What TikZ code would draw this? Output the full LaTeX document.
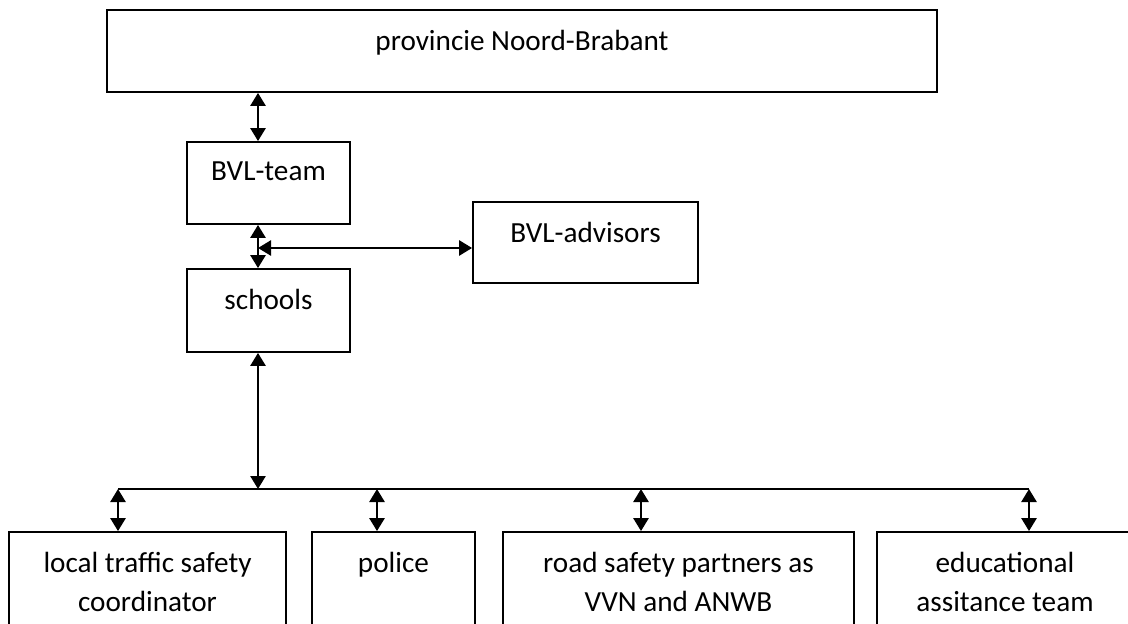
\documentclass[tikz,border=0pt]{standalone}
\usepackage{fontspec}
\setmainfont{Carlito}
\usetikzlibrary{arrows.meta, calc}
\tikzset{
  orgbox/.style={draw=black, line width=0.9pt, inner sep=0pt},
  boxtext/.style={anchor=north, inner sep=0pt, align=center, yshift=-10.2pt,
    font=\fontsize{14.6pt}{19.5pt}\selectfont},
  linkarrow/.style={{Triangle[length=6.5pt,width=7.5pt]}-{Triangle[length=6.5pt,width=7.5pt]},
    line width=1.3pt},
  busline/.style={line width=1pt}
}
\begin{document}
\begin{tikzpicture}[x=0.5pt, y=-0.5pt]
  \useasboundingbox (0,0) rectangle (1128,624);

  %% top level
  \node[orgbox, minimum width=415pt, minimum height=41pt,
        label={[boxtext, name=provtxt]north:provincie Noord-Brabant}] (prov) at (522,51) {};

  %% middle column
  \node[orgbox, minimum width=81.5pt, minimum height=41pt,
        label={[boxtext, name=teamtxt]north:BVL-team}] (team) at (268.5,183) {};
  \node[orgbox, minimum width=81.5pt, minimum height=41.5pt,
        label={[boxtext, name=schooltxt]north:schools}] (schools) at (268.5,310.5) {};
  \node[orgbox, minimum width=112.5pt, minimum height=40.5pt,
        label={[boxtext, name=advtxt]north:BVL-advisors}] (adv) at (585.5,242.5) {};

  %% bottom row (runs off the page)
  \node[orgbox, minimum width=138.5pt, minimum height=59pt,
        label={[boxtext, name=lvctxt]north:local traffic safety\\coordinator}] (lvc) at (147.5,591) {};
  \node[orgbox, minimum width=81.5pt, minimum height=59pt,
        label={[boxtext, name=politxt]north:police}] (police) at (393.5,591) {};
  \node[orgbox, minimum width=175.5pt, minimum height=59pt,
        label={[boxtext, name=parttxt]north:road safety partners as\\VVN and ANWB}] (partners) at (678.5,591) {};
  \node[orgbox, minimum width=128pt, minimum height=59pt,
        label={[boxtext, name=edutxt]north:educational\\assitance team}] (edu) at (1005,591) {};

  %% helper points
  \coordinate (axis) at (258,0);
  \coordinate (advin) at ([yshift=-2.75pt]adv.west);
  \coordinate (busL) at (118,489);
  \coordinate (busR) at (1029,489);
  \coordinate (tapB) at (377,489);
  \coordinate (tapC) at (641,489);

  %% connectors
  \draw[linkarrow] (prov.south -| axis) -- (team.north -| axis);
  \draw[linkarrow] (team.south -| axis) -- (schools.north -| axis);
  \draw[linkarrow] (axis |- advin) -- (advin);
  \draw[linkarrow] (schools.south -| axis) -- (axis |- busL);
  \draw[busline] (busL) -- (busR);
  \draw[linkarrow] (busL) -- (lvc.north -| busL);
  \draw[linkarrow] (tapB) -- (police.north -| tapB);
  \draw[linkarrow] (tapC) -- (partners.north -| tapC);
  \draw[linkarrow] (busR) -- (edu.north -| busR);

\end{tikzpicture}
\end{document}
